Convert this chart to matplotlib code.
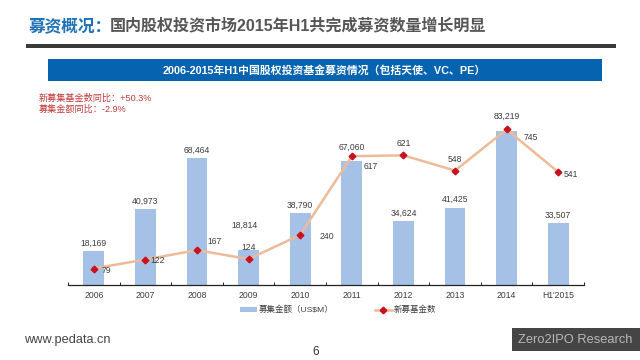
import matplotlib
matplotlib.use("Agg")
import matplotlib.pyplot as plt
from matplotlib.patches import Rectangle

plt.rcParams['font.family'] = ['Liberation Sans', 'Noto Sans CJK SC', 'DejaVu Sans']

categories = ['2006', '2007', '2008', '2009', '2010', '2011', '2012', '2013', '2014', "H1'2015"]
amounts = [18169, 40973, 68464, 18814, 38790, 67060, 34624, 41425, 83219, 33507]
funds = [79, 122, 167, 124, 240, 617, 621, 548, 745, 541]
bar_label_offsets = [(0, 8), (0, 8), (0, 8), (-4, 25), (0, 8), (0, 14), (0, 8), (0, 9), (0, 15), (0, 8)]
fund_label_offsets = [(13, -2), (12, -1), (18, 9), (0, 12), (27, -2), (19, -10), (0, 12), (0, 11), (24, -8), (13, -2)]

W, H = 640, 360
BAR_BLUE = '#A6C1E6'
LINE_ORANGE = '#EDBB99'
RED = '#C8101E'
TEXT = '#3C3C3C'

fig = plt.figure(figsize=(W / 100, H / 100), dpi=100, facecolor='white')


def fx(x):
    return x / W


def fy(y):
    return 1 - y / H


def box(x0, y0, x1, y1, color, z=1):
    fig.add_artist(Rectangle((fx(x0), fy(y1)), (x1 - x0) / W, (y1 - y0) / H,
                             transform=fig.transFigure, facecolor=color,
                             edgecolor='none', zorder=z))


# Header
fig.text(fx(29), fy(26), '募资概况：', fontsize=12, fontweight='bold', color='#1F72B4', va='center')
fig.text(fx(110), fy(26), '国内股权投资市场2015年H1共完成募资数量增长明显', fontsize=11.55,
         fontweight='bold', color='#565656', va='center')
box(26, 43.5, 616, 47.5, '#3A3A3A')
box(48, 59, 602, 81, '#0563B0')
fig.text(fx(324), fy(70.5), '2006-2015年H1中国股权投资基金募资情况（包括天使、VC、PE）',
         fontsize=7.8, fontweight='bold', color='white', ha='center', va='center', zorder=3)
fig.text(fx(39), fy(98), '新募集基金数同比：+50.3%', fontsize=6.55, color='#C0393B', va='center')
fig.text(fx(39), fy(109), '募集金额同比：-2.9%', fontsize=6.55, color='#C0393B', va='center')

# Chart
ax = fig.add_axes([fx(68), fy(285), (584 - 68) / W, 195 / H])
ax.set_facecolor('none')
x = list(range(len(categories)))
bars = ax.bar(x, amounts, width=0.4, color=BAR_BLUE, zorder=2)
ax.set_xlim(-0.5, len(categories) - 0.5)
ax.set_ylim(0, 105400)
ax.set_yticks([])
for s in ('top', 'left', 'right'):
    ax.spines[s].set_visible(False)
ax.spines['bottom'].set_color('#222222')
ax.spines['bottom'].set_linewidth(0.9)
ax.set_xticks(x)
ax.set_xticklabels(categories, fontsize=6.2, color=TEXT)
ax.tick_params(axis='x', length=0, pad=4)
ax.set_xticks([i - 0.5 for i in range(len(categories) + 1)], minor=True)
ax.tick_params(axis='x', which='minor', direction='in', length=2.2, width=0.7, color='#222222')

ax2 = ax.twinx()
ax2.set_ylim(0, 934)
ax2.set_yticks([])
for s in ax2.spines.values():
    s.set_visible(False)
line, = ax2.plot(x, funds, color=LINE_ORANGE, lw=1.8, marker='D', ms=3.4,
                 mfc=RED, mec=RED, zorder=4)

for xi, v, off in zip(x, amounts, bar_label_offsets):
    ax.annotate(f'{v:,}', (xi, v), xytext=off, textcoords='offset pixels',
                ha='center', va='center', fontsize=6.2, color=TEXT, zorder=6)
for xi, v, off in zip(x, funds, fund_label_offsets):
    ax2.annotate(f'{v}', (xi, v), xytext=off, textcoords='offset pixels',
                 ha='center', va='center', fontsize=6.2, color=TEXT, zorder=6)

fig.legend(handles=[bars, line], labels=['募集金额（US$M）', '新募基金数'], loc='center',
           bbox_to_anchor=(fx(338), fy(310)), ncol=2, frameon=False, fontsize=6.1,
           handlelength=2.0, handleheight=0.45, columnspacing=4.9, handletextpad=0.2,
           labelcolor=TEXT)

# Footer
fig.text(fx(24), fy(340), 'www.pedata.cn', fontsize=9.2, color='#444444', va='center')
fig.text(fx(316), fy(352), '6', fontsize=8.5, color='#333333', ha='center', va='center')
box(512, 328, 640, 351, '#454545')
fig.text(fx(575), fy(340), 'Zero2IPO Research', fontsize=9.3, color='#B8B8B8',
         ha='center', va='center', zorder=3)

fig.savefig('out.png', dpi=100, facecolor='white')
